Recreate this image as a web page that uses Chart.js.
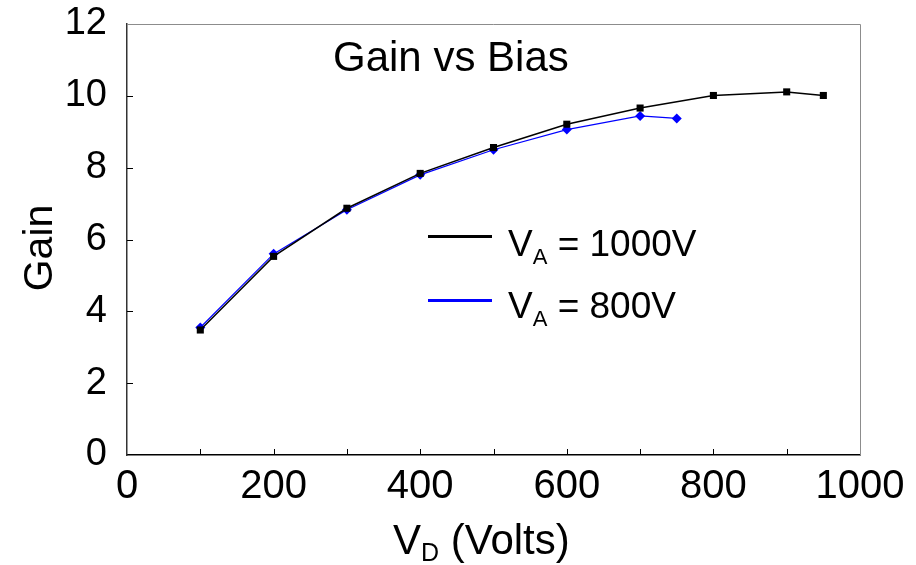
<!DOCTYPE html>
<html>
<head>
<meta charset="utf-8">
<script src="https://cdn.jsdelivr.net/npm/chart.js@4.4.1/dist/chart.umd.min.js"></script>
<style>
  html, body { margin: 0; padding: 0; background: #fff; }
  #wrap { width: 916px; height: 565px; }
</style>
</head>
<body>
<div id="wrap"><canvas id="gain-chart"></canvas></div>
<script>
// V_A = 1000V
const vdA1000 = [100, 200, 300, 400, 500, 600, 700, 800, 900, 950];
const gainA1000 = [3.48, 5.53, 6.87, 7.84, 8.56, 9.21, 9.66, 10.01, 10.11, 10.01];
// V_A = 800V
const vdA800 = [100, 200, 300, 400, 500, 600, 700, 750];
const gainA800 = [3.55, 5.6, 6.83, 7.8, 8.5, 9.06, 9.44, 9.37];

const xTickMarks = [100, 200, 300, 400, 500, 600, 700, 800, 900];
const yTickMarks = [2, 4, 6, 8, 10];

const FONT = '"Liberation Sans", Arial, sans-serif';

const toPoints = (xs, ys) => xs.map((x, i) => ({ x: x, y: ys[i] }));

// text with a subscript part, drawn left to right
const drawSub = (ctx, x, y, parts) => {
  let cx = x;
  parts.forEach((p) => {
    ctx.font = p.size + 'px ' + FONT;
    ctx.fillText(p.text, cx, y + (p.dy || 0));
    cx += ctx.measureText(p.text).width;
  });
};

const decorations = {
  id: 'decorations',
  afterDraw(chart) {
    const { ctx, chartArea: a, scales } = chart;
    ctx.save();

    // top and right frame
    ctx.strokeStyle = '#8c8c8c';
    ctx.lineWidth = 1;
    ctx.beginPath();
    ctx.moveTo(a.left, a.top + 0.5);
    ctx.lineTo(a.right + 0.5, a.top + 0.5);
    ctx.lineTo(a.right + 0.5, a.bottom);
    ctx.stroke();

    // inside tick marks
    ctx.strokeStyle = '#000';
    ctx.lineWidth = 1;
    ctx.beginPath();
    xTickMarks.forEach((v) => {
      const px = Math.round(scales.x.getPixelForValue(v)) + 0.5;
      ctx.moveTo(px, a.bottom);
      ctx.lineTo(px, a.bottom - 6);
    });
    yTickMarks.forEach((v) => {
      const py = Math.round(scales.y.getPixelForValue(v)) + 0.5;
      ctx.moveTo(a.left, py);
      ctx.lineTo(a.left + 6, py);
    });
    ctx.stroke();

    ctx.fillStyle = '#000';
    ctx.textAlign = 'left';
    ctx.textBaseline = 'alphabetic';

    // title
    ctx.font = '42px ' + FONT;
    ctx.fillText('Gain vs Bias', 333, 71);

    // y axis title
    ctx.save();
    ctx.translate(52, 248);
    ctx.rotate(-Math.PI / 2);
    ctx.textAlign = 'center';
    ctx.font = '41px ' + FONT;
    ctx.fillText('Gain', 0, 0);
    ctx.restore();

    // x axis title
    drawSub(ctx, 393, 554, [
      { text: 'V', size: 42 },
      { text: 'D', size: 25, dy: 7 },
      { text: ' (Volts)', size: 42 },
    ]);

    // legend
    ctx.lineWidth = 3;
    ctx.strokeStyle = '#000';
    ctx.beginPath();
    ctx.moveTo(428, 236.5);
    ctx.lineTo(492, 236.5);
    ctx.stroke();
    ctx.strokeStyle = '#0000ff';
    ctx.beginPath();
    ctx.moveTo(428, 300.5);
    ctx.lineTo(492, 300.5);
    ctx.stroke();

    drawSub(ctx, 508, 256, [
      { text: 'V', size: 37 },
      { text: 'A', size: 22, dy: 8 },
      { text: ' = 1000V', size: 37 },
    ]);
    drawSub(ctx, 508, 318, [
      { text: 'V', size: 37 },
      { text: 'A', size: 22, dy: 8 },
      { text: ' = 800V', size: 37 },
    ]);

    ctx.restore();
  },
};

Chart.defaults.font.family = FONT;
Chart.defaults.color = '#000';

const context = document.getElementById('gain-chart');

new Chart(context, {
  type: 'line',
  data: {
    datasets: [
      {
        label: 'V_A = 1000V',
        data: toPoints(vdA1000, gainA1000),
        borderColor: '#000000',
        backgroundColor: '#000000',
        borderWidth: 1.5,
        pointStyle: 'rect',
        pointRadius: 5,
        pointBorderWidth: 0,
        tension: 0,
        order: 0,
      },
      {
        label: 'V_A = 800V',
        data: toPoints(vdA800, gainA800),
        borderColor: '#0000ff',
        backgroundColor: '#0000ff',
        borderWidth: 1.2,
        pointStyle: 'rectRot',
        pointRadius: 5,
        pointBorderWidth: 0,
        tension: 0,
        order: 1,
      },
    ],
  },
  options: {
    responsive: true,
    maintainAspectRatio: false,
    animation: false,
    layout: {
      padding: { top: 24, right: 56, left: 0, bottom: 0 },
    },
    plugins: {
      legend: { display: false },
      title: { display: false },
      tooltip: { enabled: false },
    },
    scales: {
      x: {
        type: 'linear',
        min: 0,
        max: 1000,
        afterFit: (scale) => {
          scale.height = 110;
          scale.paddingLeft = 0;
          scale.paddingRight = 0;
        },
        grid: { display: false, drawTicks: false },
        border: { display: true, color: '#000', width: 1.5 },
        ticks: {
          stepSize: 200,
          padding: 8,
          font: { size: 40 },
          maxRotation: 0,
          callback: (value) => String(value),
        },
      },
      y: {
        min: 0,
        max: 12,
        afterFit: (scale) => {
          scale.width = 127;
          scale.paddingTop = 0;
          scale.paddingBottom = 0;
        },
        grid: { display: false, drawTicks: false },
        border: { display: true, color: '#333', width: 1.5 },
        ticks: {
          stepSize: 2,
          padding: 20,
          font: { size: 38 },
        },
      },
    },
  },
  plugins: [decorations],
});
</script>
</body>
</html>
